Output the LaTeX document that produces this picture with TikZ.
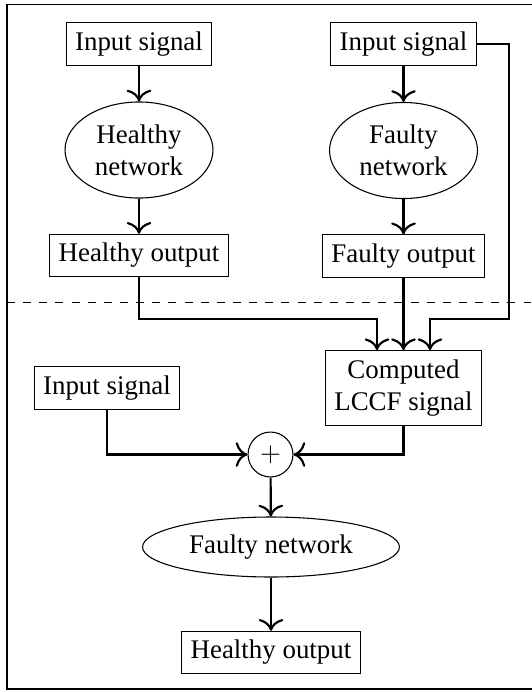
\documentclass[tikz,border=0pt]{standalone}
\usepackage{fontspec}
\setmainfont{Liberation Serif}
\usepackage{tikz}
\usetikzlibrary{shapes,arrows.meta,positioning,calc}
\tikzstyle{block} = [draw,rectangle,inner sep=3.33pt]
\tikzstyle{net} = [draw,ellipse,align=center,inner sep=0,minimum width=55pt,minimum height=35.7pt]
\tikzstyle{adder} = [draw,circle,inner sep=0,minimum size=16.7pt]
\tikzstyle{conn} = [-{Computer Modern Rightarrow[scale=1.3]},thick]
\def \px {0.3717pt}

\begin{document}
\begin{tikzpicture}[x=\px,y=-\px]
      \useasboundingbox (0,0) rectangle (531,692);
      \draw (545,4.5) -- (7,4.5) -- (7,689) -- (545,689);
      \draw[dashed] (7,302.5) -- (531,302.5);
      % top half
      \node[block] (in1) at (139,44) {Input signal};
      \node[net] (hnet) at (139,150) {Healthy\\network};
      \node[block] (hout) at (139,255.5) {Healthy output};
      \node[block] (in2) at (403.5,44) {Input signal};
      \node[net] (fnet) at (403.5,150.5) {Faulty\\network};
      \node[block] (fout) at (403.5,256) {Faulty output};
      % bottom half
      \node[block,align=center] (comp) at (403.5,388) {Computed\\LCCF signal};
      \node[block] (in3) at (107,388) {Input signal};
      \node[adder] (sum) at (270.5,454.5) {$+$};
      \node[net,minimum width=95.5pt,minimum height=22.3pt] (fnet2) at (271,547) {Faulty network};
      \node[block] (hout2) at (271,652.5) {Healthy output};
      \draw[conn] (in1) -- (hnet);
      \draw[conn] (hnet) -- (hout);
      \draw[conn] (in2) -- (fnet);
      \draw[conn] (fnet) -- (fout);
      \draw[conn] (hout.south) |- ($(comp.north)+(-26.5,-31)$) -- ($(comp.north)+(-26.5,0)$);
      \draw[conn] (fout) -- (comp);
      \draw[conn] (in2.east) -| ($(comp.north)+(105.5,-31)$) -| ($(comp.north)+(26.5,0)$);
      \draw[conn] (in3.south) |- (sum.west);
      \draw[conn] (comp.south) |- (sum.east);
      \draw[conn] (sum) -- (fnet2);
      \draw[conn] (fnet2) -- (hout2);
    \end{tikzpicture}
\end{document}
